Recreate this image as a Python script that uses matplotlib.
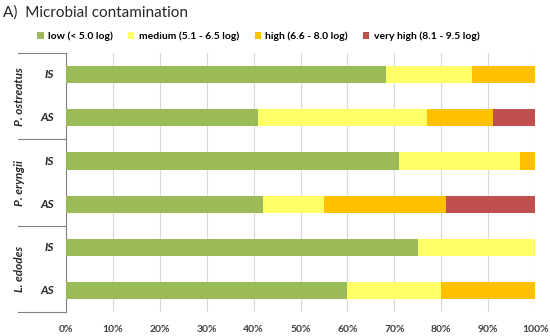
import matplotlib.pyplot as plt
import numpy as np

# data (percent of samples per contamination class)
groups = ['P. ostreatus', 'P. eryngii', 'L. edodes']
rows = ['IS', 'AS', 'IS', 'AS', 'IS', 'AS']
classes = ['low (< 5.0 log)', 'medium (5.1 - 6.5 log)',
           'high (6.6 - 8.0 log)', 'very high (8.1 - 9.5 log)']
low = [68.3, 41.0, 71.0, 42.0, 75.0, 60.0]
medium = [18.2, 36.0, 25.7, 13.0, 25.0, 20.0]
high = [13.5, 14.0, 3.3, 26.0, 0.0, 20.0]
very_high = [0.0, 9.0, 0.0, 19.0, 0.0, 0.0]
colors = ['#9BBB59', '#FFFF66', '#FFC000', '#C0504D']

plt.rcParams['font.family'] = ['Lato', 'DejaVu Sans']

fig = plt.figure(figsize=(5.5, 3.36), dpi=100)
ax = fig.add_axes([0.12, 0.071, 0.853, 0.771])

y = np.arange(len(rows))
left = np.zeros(len(rows))
for vals, lab, c in zip([low, medium, high, very_high], classes, colors):
    ax.barh(y, vals, left=left, height=0.4, color=c, label=lab, zorder=3)
    left += np.array(vals)

ax.set_xlim(0, 100)
ax.set_ylim(len(rows) - 0.5, -0.5)
ax.set_xticks(np.arange(0, 101, 10))
ax.set_xticklabels([f'{v}%' for v in range(0, 101, 10)],
                   fontsize=7.5, fontweight='bold', color='#404040')
ax.tick_params(axis='x', length=0, pad=9)
ax.set_yticks([])
ax.grid(axis='x', color='#D9D9D9', linewidth=0.8, zorder=0)
for s in ['top', 'right', 'bottom']:
    ax.spines[s].set_visible(False)
ax.spines['left'].set_color('#808080')
ax.spines['left'].set_linewidth(0.8)

# row labels and group labels on the left
trans = ax.get_yaxis_transform()
for i, r in enumerate(rows):
    ax.text(-0.025, i, r, transform=trans, ha='right', va='center',
            fontsize=8.5, fontweight='bold', style='italic', color='#262626')
for g, name in enumerate(groups):
    ax.text(-0.1, 2 * g + 0.5, name, transform=trans, ha='center', va='center',
            rotation=90, fontsize=8.5, fontweight='bold', style='italic',
            color='#262626')
for yy in [-0.5, 1.5, 3.5, 5.5]:
    ax.plot([-0.103, 0], [yy, yy], transform=trans, color='#808080',
            linewidth=0.8, clip_on=False)

ax.legend(loc='lower center', bbox_to_anchor=(0.41, 1.01), ncol=4, frameon=False,
          handlelength=0.6, handleheight=0.6, handletextpad=0.4,
          columnspacing=1.5, prop={'weight': 'bold', 'size': 7.5})

fig.text(0.006, 0.962, 'A)  Microbial contamination', fontsize=11, va='center',
         color='#262626')

fig.savefig('out.png', dpi=100)
